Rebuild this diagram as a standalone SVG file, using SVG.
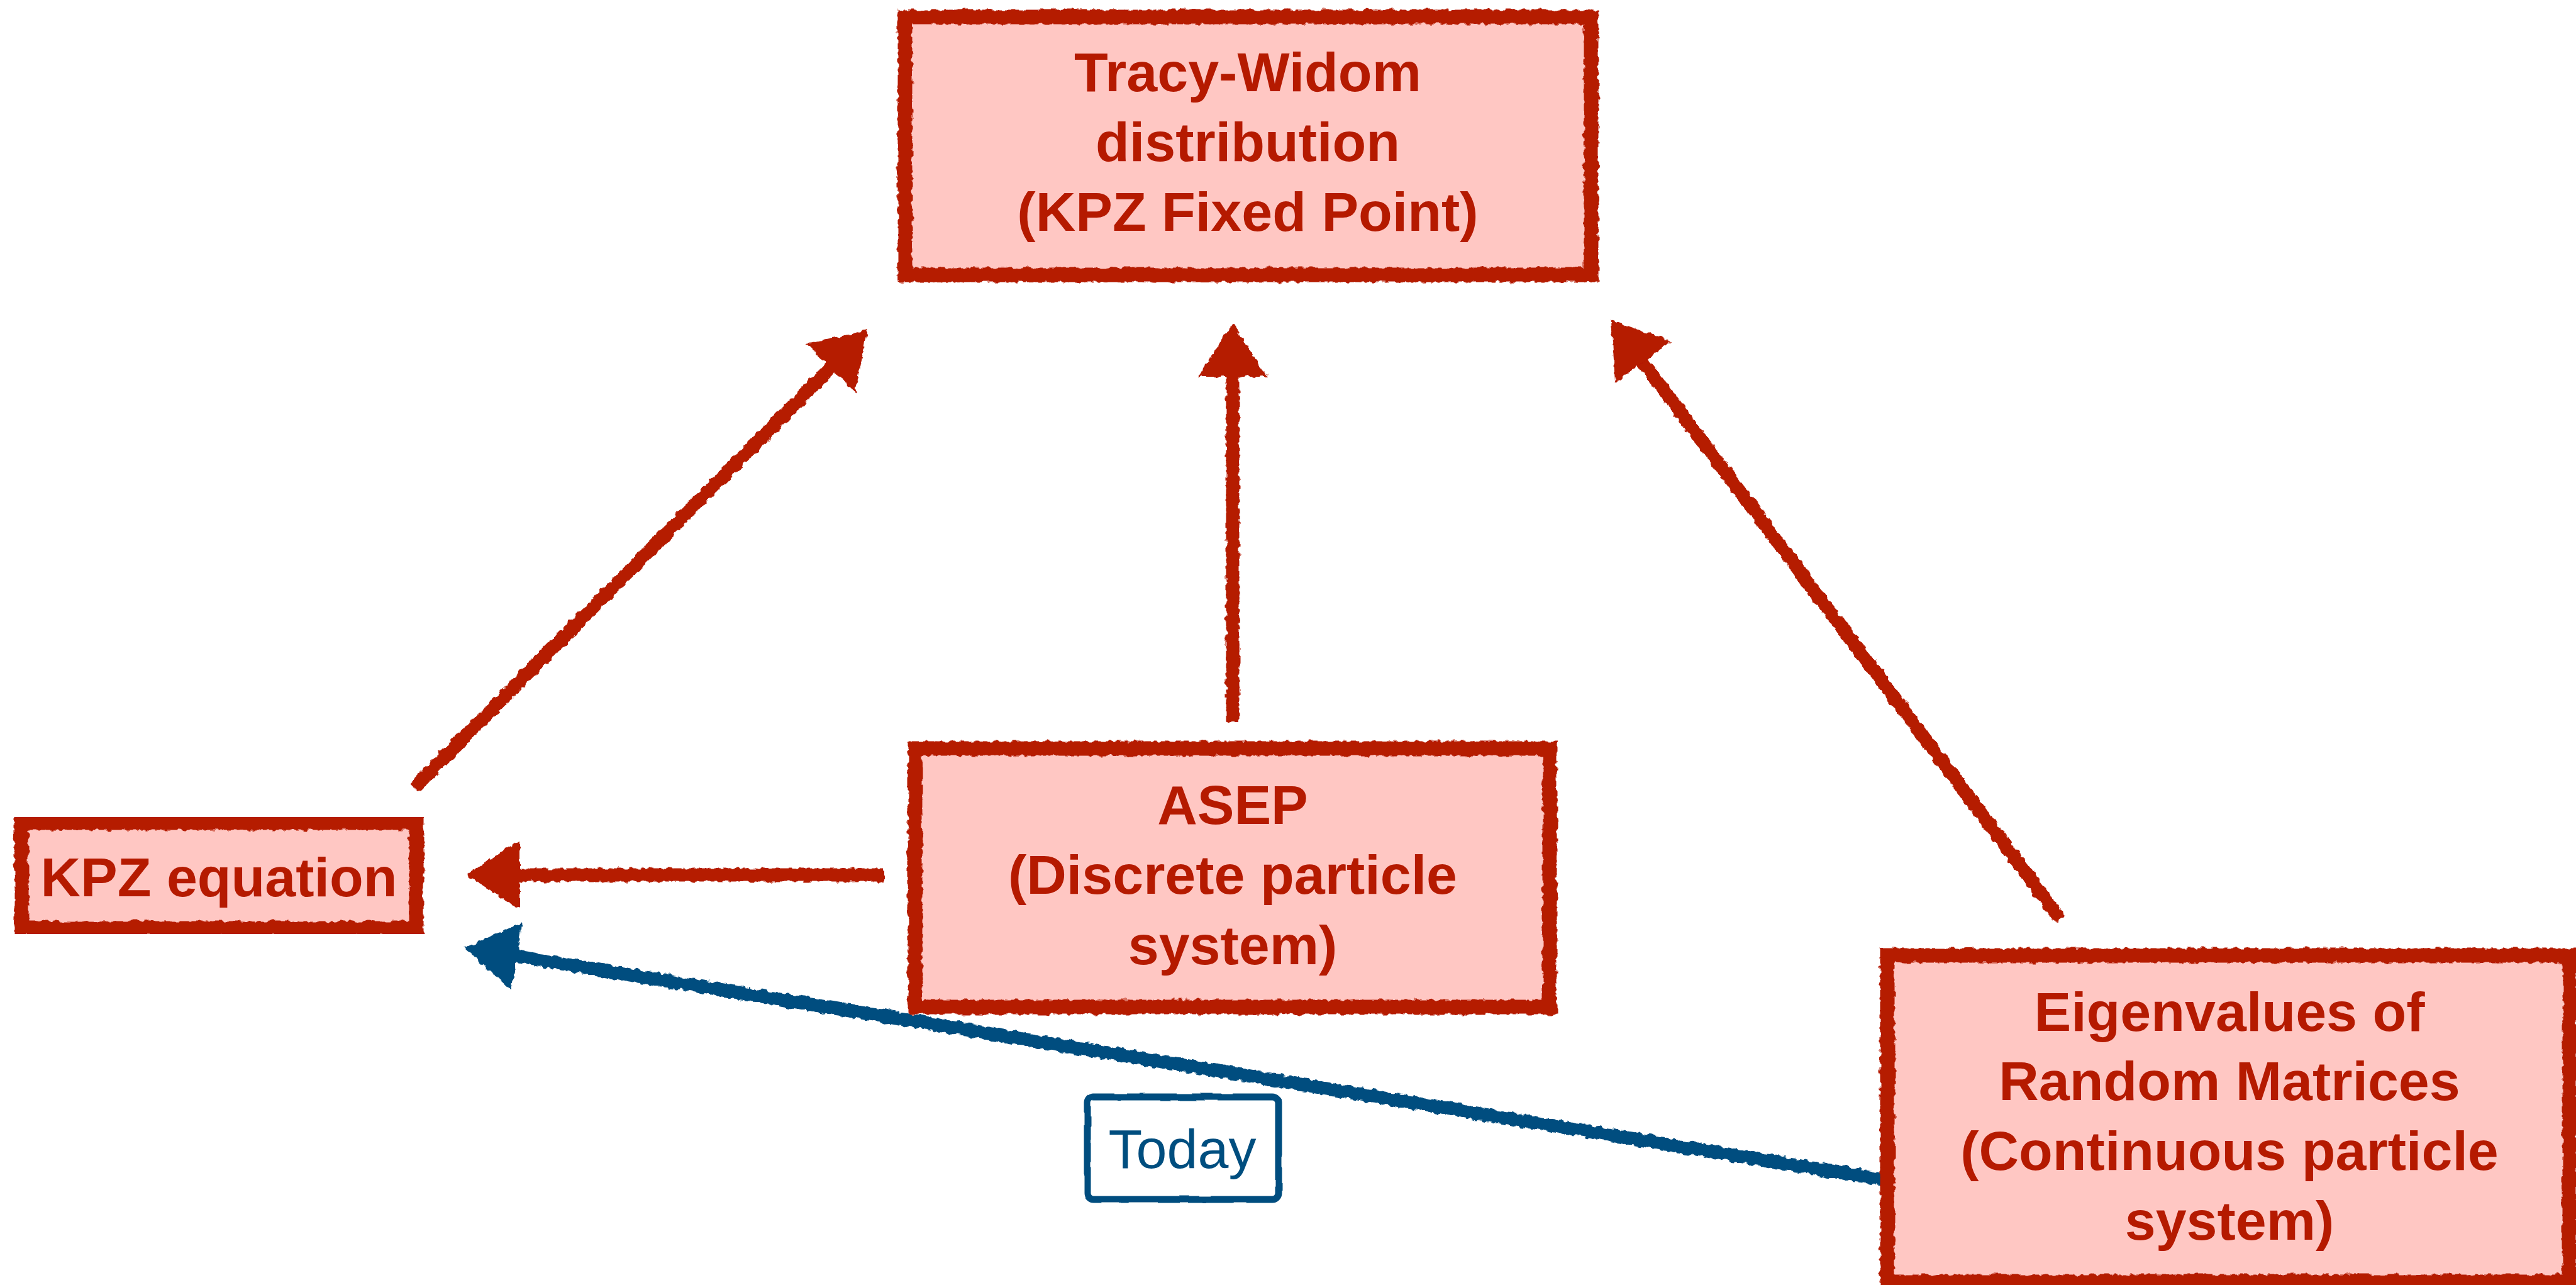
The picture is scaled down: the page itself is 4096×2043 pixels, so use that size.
<svg xmlns="http://www.w3.org/2000/svg" width="4096" height="2043" viewBox="0 0 4096 2043">
  <defs>
    <filter id="rough" x="-5%" y="-5%" width="110%" height="110%">
      <feTurbulence type="fractalNoise" baseFrequency="0.1" numOctaves="2" seed="3" result="n"/>
      <feDisplacementMap in="SourceGraphic" in2="n" scale="9" xChannelSelector="R" yChannelSelector="G"/>
    </filter>
    <filter id="wobble" x="-5%" y="-5%" width="110%" height="110%">
      <feTurbulence type="fractalNoise" baseFrequency="0.03" numOctaves="1" seed="7" result="n"/>
      <feDisplacementMap in="SourceGraphic" in2="n" scale="4" xChannelSelector="R" yChannelSelector="G"/>
    </filter>
    <marker id="headRed" markerUnits="userSpaceOnUse" markerWidth="95" markerHeight="120" viewBox="-5 -60 95 120" refX="3" refY="0" orient="auto">
      <path d="M0,-55 L84,0 L0,55 Z" fill="#B51A00"/>
    </marker>
    <marker id="headBlue" markerUnits="userSpaceOnUse" markerWidth="95" markerHeight="120" viewBox="-5 -60 95 120" refX="3" refY="0" orient="auto">
      <path d="M0,-55 L84,0 L0,55 Z" fill="#004E7F"/>
    </marker>
  </defs>
  <style>
    .box { fill: #FFC7C3; stroke: #B51A00; stroke-width: 23; filter: url(#rough); }
    .lbl { font-family: "Liberation Sans", Arial, sans-serif; font-weight: bold; font-size: 88px; fill: #B51A00; text-anchor: middle; }
    .red { stroke: #B51A00; stroke-width: 21; fill: none; marker-end: url(#headRed); }
    .blue { stroke: #004E7F; stroke-width: 21; fill: none; marker-end: url(#headBlue); }
    .today { fill: #FFFFFF; stroke: #004E7F; stroke-width: 11; filter: url(#wobble); }
    .todayTxt { font-family: "Liberation Sans", Arial, sans-serif; font-size: 88px; fill: #004E7F; text-anchor: middle; }
  </style>
  <rect width="4096" height="2043" fill="#FFFFFF"/>

  <g id="connectors" filter="url(#rough)">
    <line class="red" x1="658" y1="1253" x2="1322.8" y2="582.6"/>
    <line class="red" x1="1960" y1="1148" x2="1960" y2="596"/>
    <line class="red" x1="3276" y1="1461" x2="2610.4" y2="573.2"/>
    <line class="red" x1="1406" y1="1391" x2="823" y2="1391"/>
    <line class="blue" x1="3004" y1="1877" x2="819" y2="1520"/>
  </g>

  <g id="node-tracy-widom">
    <rect class="box" x="1439" y="27" width="1091" height="410"/>
    <text class="lbl" x="1984" y="145">Tracy-Widom</text>
    <text class="lbl" x="1984" y="256">distribution</text>
    <text class="lbl" x="1984" y="367">(KPZ Fixed Point)</text>
  </g>

  <g id="node-kpz-equation">
    <rect class="box" x="34" y="1308" width="628" height="168"/>
    <text class="lbl" x="348" y="1425">KPZ equation</text>
  </g>

  <g id="node-asep">
    <rect class="box" x="1455" y="1190" width="1009" height="411"/>
    <text class="lbl" x="1960" y="1310">ASEP</text>
    <text class="lbl" x="1960" y="1421">(Discrete particle</text>
    <text class="lbl" x="1960" y="1533">system)</text>
  </g>

  <g id="node-eigenvalues">
    <rect class="box" x="3001" y="1519" width="1085" height="519"/>
    <text class="lbl" x="3545" y="1639">Eigenvalues of</text>
    <text class="lbl" x="3545" y="1749">Random Matrices</text>
    <text class="lbl" x="3545" y="1860">(Continuous particle</text>
    <text class="lbl" x="3545" y="1971">system)</text>
  </g>

  <g id="label-today">
    <rect class="today" x="1729" y="1744" width="304" height="163" rx="10" ry="10"/>
    <text class="todayTxt" x="1880" y="1857">Today</text>
  </g>
</svg>
